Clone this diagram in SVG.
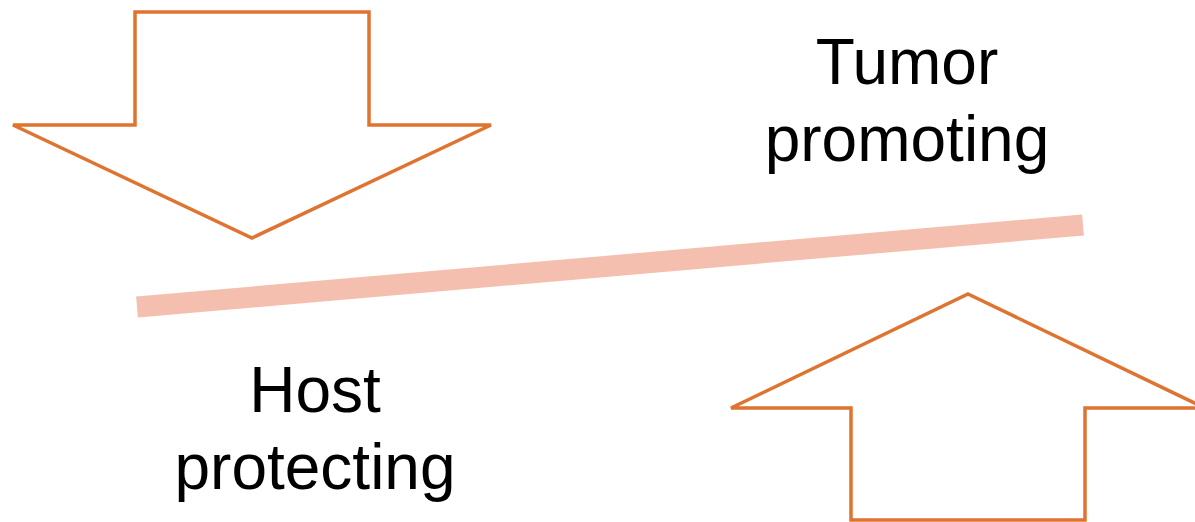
<svg xmlns="http://www.w3.org/2000/svg" width="1195" height="522" viewBox="0 0 1195 522">
  <style>
    .block { fill: #ffffff; stroke: #DF7431; stroke-width: 3.5; stroke-linejoin: miter; }
    .label { font-family: "Liberation Sans", Arial, sans-serif; font-size: 64px; fill: #000000; text-anchor: middle; }
    .balance { stroke: #F4BFAE; stroke-width: 21; stroke-linecap: butt; fill: none; }
  </style>
  <rect width="1195" height="522" fill="#ffffff"/>

  <!-- downward block arrow, top left -->
  <g id="arrow-down">
    <polygon class="block" points="135,12 369,12 369,125 491,125 252,238 13,125 135,125"/>
  </g>

  <!-- upward block arrow, bottom right -->
  <g id="arrow-up">
    <polygon class="block" points="968,294 1205,408 1085,408 1085,520 851,520 851,408 731,408"/>
  </g>

  <!-- tilted balance bar -->
  <g id="connectors">
    <line class="balance" x1="137" y1="307" x2="1083" y2="225"/>
  </g>

  <g id="label-tumor">
    <text class="label" x="907" y="84">Tumor</text>
    <text class="label" x="907" y="161">promoting</text>
  </g>

  <g id="label-host">
    <text class="label" x="315" y="412">Host</text>
    <text class="label" x="315" y="489">protecting</text>
  </g>
</svg>
